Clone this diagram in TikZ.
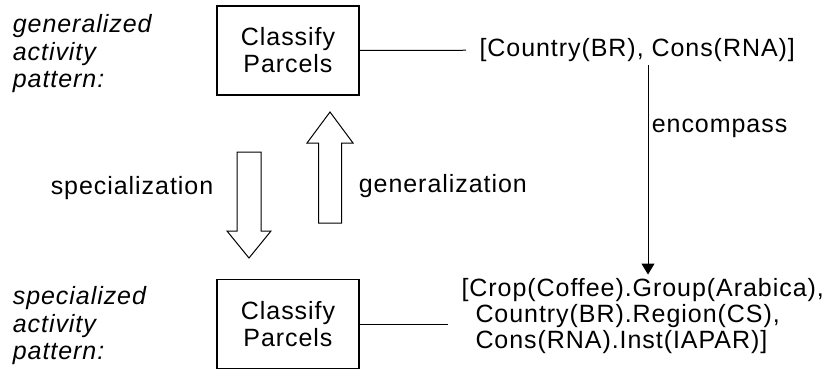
\documentclass[tikz,border=0pt]{standalone}
\usepackage{fontspec}
\setmainfont[LetterSpace=3.8]{Liberation Sans}
\usetikzlibrary{calc, positioning, arrows.meta}
\tikzset{
  activity/.style={draw, line width=1.5pt, minimum width=142pt, minimum height=89pt, align=center},
  patlabel/.style={anchor=west, align=left, font=\fontsize{25}{27.5}\selectfont\itshape},
  tags/.style={anchor=west, align=left, inner xsep=13pt}
}

\begin{document}
\begin{tikzpicture}[x=1pt, y=-1pt, font=\fontsize{25}{26}\selectfont, line width=1pt]
			\useasboundingbox (0, 0) rectangle (830, 370);
			% generalized level
			\node[patlabel] (genlab) at (9, 54) {generalized\\activity\\pattern:};
			\node[activity, font=\fontsize{25}{27}\selectfont] (genbox) at (288, 50.5) {Classify\\Parcels};
			\node[tags] (gentags) at (466, 50) {[Country(BR), Cons(RNA)]};
			\draw (genbox) -- (gentags);
			% specialized level
			\node[patlabel] (speclab) at (9, 326) {specialized\\activity\\pattern:};
			\node[activity, font=\fontsize{25}{27}\selectfont] (specbox) at (288, 324) {Classify\\Parcels};
			\node[tags] (spectags) at (448, 316) {[Crop(Coffee).Group(Arabica),\\
				\hspace*{14pt}Country(BR).Region(CS),\\
				\hspace*{14pt}Cons(RNA).Inst(IAPAR)]};
			\draw (specbox.east) -- (specbox.east -| spectags.west);
			% encompass
			\coordinate (encx) at (648, 0);
			\draw[-{Triangle[length=11pt, width=13pt]}] (gentags.south -| encx) -- node[pos=0.3, right] (enclab) {encompass} (spectags.north -| encx);
			% hollow arrows
			\coordinate (down) at (249, 152);
			\coordinate (up) at (330, 223);
			\draw[fill=white] (down) ++(-12, 0) -- ++(0, 79) -- ++(-10, 0) -- (249, 258) -- (271, 231) -- ++(-10, 0) -- ++(0, -79) -- cycle;
			\draw[fill=white] (up) ++(-11.5, 0) -- ++(0, -80) -- ++(-11.5, 0) -- (330, 112) -- (353, 143) -- ++(-11.5, 0) -- ++(0, 80) -- cycle;
			\node (speclbl) at (132, 188) {specialization};
			\node[anchor=west] (genlbl) at (355, 186) {generalization};
		\end{tikzpicture}
\end{document}
